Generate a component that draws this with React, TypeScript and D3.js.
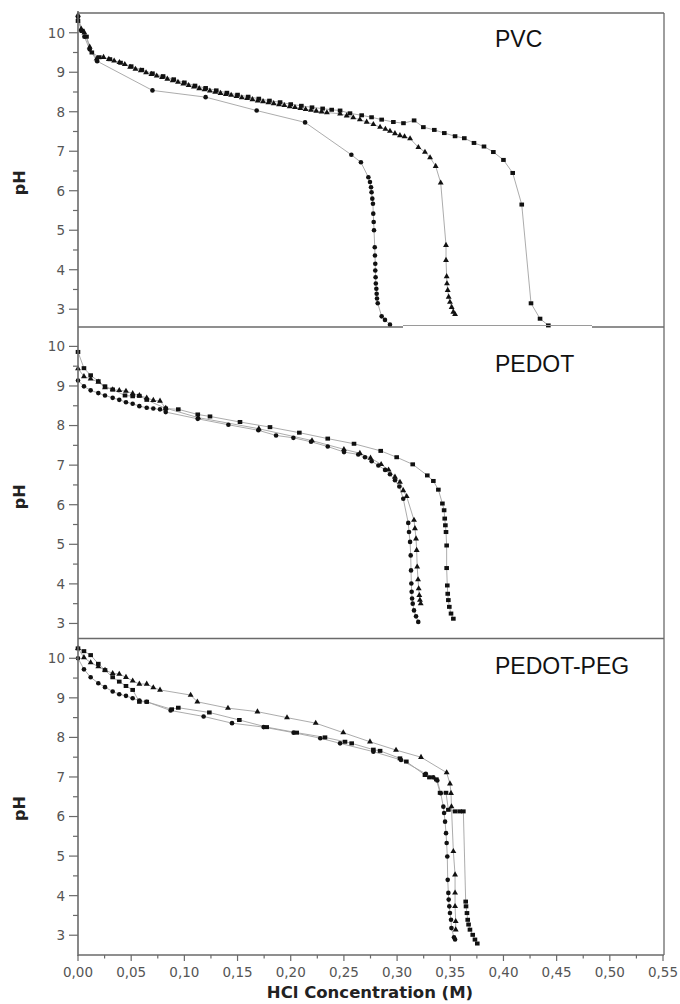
import * as d3 from "d3";

// [HCl concentration (M), pH]
const pvcSquares: [number, number][] = [
  [0.0, 10.3], [0.004, 10.05], [0.008, 9.9], [0.013, 9.5], [0.02, 9.38], [0.03, 9.33],
  [0.04, 9.24], [0.05, 9.15], [0.06, 9.06], [0.07, 8.97], [0.08, 8.9], [0.09, 8.82],
  [0.1, 8.74], [0.11, 8.66], [0.12, 8.6], [0.13, 8.54], [0.14, 8.48], [0.15, 8.43],
  [0.16, 8.38], [0.17, 8.33], [0.18, 8.28], [0.19, 8.24], [0.2, 8.19], [0.21, 8.15],
  [0.22, 8.11], [0.23, 8.08], [0.2385, 8.05], [0.2464, 8.03], [0.2557, 7.96], [0.2667, 7.91],
  [0.276, 7.86], [0.2855, 7.8], [0.2965, 7.74], [0.306, 7.71], [0.316, 7.78], [0.3247, 7.61],
  [0.335, 7.54], [0.3444, 7.46], [0.3545, 7.38], [0.3632, 7.33], [0.3723, 7.21], [0.3817, 7.12],
  [0.3905, 6.98], [0.4, 6.78], [0.4087, 6.45], [0.4172, 5.65], [0.4259, 3.15], [0.4344, 2.76],
  [0.4422, 2.59],
];
const pvcCircles: [number, number][] = [
  [0.0, 10.4], [0.003, 10.05], [0.006, 9.9], [0.011, 9.58], [0.018, 9.28], [0.07, 8.54],
  [0.12, 8.37], [0.168, 8.03], [0.2135, 7.73], [0.257, 6.91], [0.266, 6.72], [0.273, 6.34],
  [0.2745, 6.22], [0.2755, 6.09], [0.276, 5.96], [0.2767, 5.8], [0.2773, 5.67], [0.2776, 5.42],
  [0.278, 5.21], [0.2783, 5.0], [0.279, 4.57], [0.2792, 4.36], [0.2795, 4.15], [0.2795, 3.98],
  [0.2798, 3.81], [0.28, 3.65], [0.2805, 3.52], [0.2808, 3.39], [0.2811, 3.27], [0.2818, 3.15],
  [0.2855, 2.82], [0.2886, 2.73], [0.2933, 2.61],
];
const pvcTriangles: [number, number][] = [
  [0.0, 10.45], [0.003, 10.1], [0.006, 10.0], [0.011, 9.64], [0.0175, 9.34], [0.024, 9.38],
  [0.029, 9.33], [0.034, 9.29], [0.039, 9.25], [0.044, 9.2], [0.049, 9.13], [0.054, 9.08],
  [0.059, 9.04], [0.064, 8.99], [0.069, 8.95], [0.074, 8.91], [0.079, 8.87], [0.084, 8.83],
  [0.089, 8.79], [0.094, 8.75], [0.099, 8.71], [0.104, 8.67], [0.109, 8.63], [0.114, 8.59],
  [0.119, 8.56], [0.124, 8.53], [0.129, 8.5], [0.134, 8.47], [0.139, 8.44], [0.144, 8.42],
  [0.149, 8.39], [0.154, 8.36], [0.159, 8.34], [0.164, 8.31], [0.169, 8.28], [0.174, 8.26],
  [0.179, 8.23], [0.184, 8.21], [0.189, 8.18], [0.194, 8.16], [0.199, 8.13], [0.204, 8.11],
  [0.209, 8.09], [0.214, 8.06], [0.219, 8.04], [0.224, 8.02], [0.229, 8.0], [0.234, 7.98],
  [0.2464, 7.95], [0.2526, 7.9], [0.2588, 7.85], [0.265, 7.8], [0.2714, 7.74], [0.2777, 7.68],
  [0.284, 7.61], [0.289, 7.56], [0.2933, 7.51], [0.298, 7.45], [0.3027, 7.4], [0.307, 7.37],
  [0.3122, 7.32], [0.32, 7.1], [0.3262, 6.98], [0.331, 6.84], [0.3363, 6.62], [0.341, 6.2],
  [0.346, 4.62], [0.346, 4.24], [0.3466, 3.83], [0.3469, 3.65], [0.3476, 3.48], [0.3485, 3.31],
  [0.3497, 3.18], [0.3513, 3.05], [0.3529, 2.93], [0.3545, 2.87],
];

const pedotSquares: [number, number][] = [
  [0.0, 9.86], [0.0056, 9.45], [0.0119, 9.27], [0.0191, 9.12], [0.0254, 8.99], [0.0326, 8.91],
  [0.0442, 8.76], [0.0514, 8.74], [0.0577, 8.75], [0.0646, 8.65], [0.0825, 8.43], [0.0943, 8.41],
  [0.1126, 8.28], [0.1241, 8.23], [0.1523, 8.09], [0.1805, 7.96], [0.2081, 7.82], [0.2348, 7.67],
  [0.2595, 7.54], [0.2846, 7.36], [0.2996, 7.2], [0.3147, 7.02], [0.3284, 6.74], [0.3341, 6.6],
  [0.3388, 6.38], [0.3426, 6.03], [0.3442, 5.86], [0.3448, 5.65], [0.3454, 5.48], [0.346, 5.31],
  [0.3466, 4.97], [0.3466, 4.4], [0.3472, 3.96], [0.3476, 3.75], [0.3482, 3.59], [0.3491, 3.42],
  [0.3507, 3.25], [0.3529, 3.12],
];
const pedotCircles: [number, number][] = [
  [0.0, 9.14], [0.0056, 8.99], [0.0119, 8.89], [0.0191, 8.82], [0.0254, 8.76], [0.0326, 8.7],
  [0.0388, 8.65], [0.0451, 8.59], [0.0514, 8.55], [0.0577, 8.49], [0.0646, 8.45], [0.0708, 8.43],
  [0.0771, 8.41], [0.0825, 8.34], [0.1126, 8.17], [0.1414, 8.02], [0.1696, 7.88], [0.1862, 7.75],
  [0.2025, 7.69], [0.2191, 7.59], [0.2348, 7.47], [0.2501, 7.33], [0.2635, 7.27], [0.2698, 7.2],
  [0.2761, 7.1], [0.2824, 6.99], [0.2887, 6.88], [0.2933, 6.77], [0.298, 6.62], [0.3021, 6.46],
  [0.3058, 6.15], [0.3105, 5.54], [0.3112, 5.31], [0.3122, 5.06], [0.3128, 4.72], [0.3131, 4.34],
  [0.3134, 4.01], [0.3137, 3.8], [0.3141, 3.63], [0.3147, 3.5], [0.3159, 3.33], [0.3178, 3.18],
  [0.3199, 3.04],
];
const pedotTriangles: [number, number][] = [
  [0.0, 9.44], [0.0056, 9.24], [0.0119, 9.18], [0.0191, 9.1], [0.0254, 8.96], [0.0326, 8.91],
  [0.0388, 8.89], [0.0451, 8.87], [0.0514, 8.81], [0.0577, 8.76], [0.0646, 8.7], [0.0708, 8.64],
  [0.0771, 8.62], [0.0825, 8.44], [0.113, 8.2], [0.17, 7.92], [0.22, 7.62], [0.25, 7.4],
  [0.265, 7.3], [0.275, 7.18], [0.285, 7.02], [0.292, 6.88], [0.298, 6.7], [0.3027, 6.57],
  [0.3058, 6.36], [0.309, 6.21], [0.3159, 5.61], [0.3168, 5.4], [0.3178, 5.14], [0.3184, 4.85],
  [0.3189, 4.43], [0.3197, 4.11], [0.3203, 3.88], [0.3209, 3.71], [0.3215, 3.59], [0.3222, 3.5],
];

const pegSquares: [number, number][] = [
  [0.0, 10.25], [0.0056, 10.18], [0.0119, 10.08], [0.0191, 9.86], [0.0254, 9.7], [0.0326, 9.52],
  [0.0388, 9.41], [0.0451, 9.3], [0.0514, 9.2], [0.0577, 8.9], [0.0646, 8.9], [0.0881, 8.71],
  [0.0943, 8.75], [0.1235, 8.63], [0.1517, 8.44], [0.1774, 8.26], [0.2056, 8.12], [0.2322, 8.0],
  [0.251, 7.89], [0.2573, 7.85], [0.2777, 7.69], [0.284, 7.66], [0.3027, 7.47], [0.3087, 7.39],
  [0.3262, 7.05], [0.3304, 6.99], [0.3369, 6.94], [0.3404, 6.6], [0.346, 6.6], [0.3482, 6.17],
  [0.3545, 6.13], [0.3589, 6.13], [0.3623, 6.13], [0.3645, 3.85], [0.3648, 3.73], [0.3657, 3.56],
  [0.3664, 3.39], [0.3672, 3.27], [0.3685, 3.14], [0.3711, 3.01], [0.3732, 2.89], [0.3754, 2.79],
];
const pegCircles: [number, number][] = [
  [0.0, 10.0], [0.0056, 9.72], [0.0119, 9.52], [0.0191, 9.37], [0.0254, 9.27], [0.0326, 9.16],
  [0.0388, 9.09], [0.0451, 9.05], [0.0514, 8.99], [0.0577, 8.93], [0.0646, 8.9], [0.0871, 8.68],
  [0.1181, 8.53], [0.1448, 8.36], [0.1745, 8.26], [0.2027, 8.12], [0.2278, 7.98], [0.2464, 7.85],
  [0.2777, 7.64], [0.3037, 7.43], [0.327, 7.08], [0.334, 6.99], [0.3378, 6.91], [0.341, 6.59],
  [0.3435, 6.25], [0.3442, 6.09], [0.3451, 5.87], [0.346, 5.58], [0.3466, 5.33], [0.3472, 4.99],
  [0.3476, 4.4], [0.3482, 4.07], [0.3485, 3.9], [0.3491, 3.73], [0.3497, 3.56], [0.3507, 3.39],
  [0.3511, 3.18], [0.3535, 2.95], [0.3545, 2.89],
];
const pegTriangles: [number, number][] = [
  [0.0, 10.25], [0.0056, 10.02], [0.0119, 9.89], [0.0191, 9.79], [0.0254, 9.7], [0.0326, 9.62],
  [0.0388, 9.6], [0.0451, 9.52], [0.0514, 9.43], [0.0577, 9.35], [0.0646, 9.35], [0.0708, 9.26],
  [0.0771, 9.2], [0.1059, 9.07], [0.1122, 8.9], [0.141, 8.74], [0.1687, 8.65], [0.1965, 8.5],
  [0.2235, 8.36], [0.2494, 8.12], [0.2745, 7.89], [0.299, 7.68], [0.3225, 7.5], [0.3466, 7.11],
  [0.3497, 6.83], [0.3507, 6.59], [0.3511, 6.25], [0.3529, 5.12], [0.3545, 4.53], [0.3545, 4.07],
  [0.3545, 3.73], [0.3551, 3.35], [0.3551, 3.14],
];

const panelNames = ["PVC", "PEDOT", "PEDOT-PEG"];
const xTicks = [0, 0.05, 0.1, 0.15, 0.2, 0.25, 0.3, 0.35, 0.4, 0.45, 0.5, 0.55];
const yTicks = [3, 4, 5, 6, 7, 8, 9, 10];

const panelData = [
  { squares: pvcSquares, circles: pvcCircles, triangles: pvcTriangles },
  { squares: pedotSquares, circles: pedotCircles, triangles: pedotTriangles },
  { squares: pegSquares, circles: pegCircles, triangles: pegTriangles },
];

// layout
const W = 680;
const H = 1004;
const left = 78;
const right = 664;
const panels = [
  { top: 13, bottom: 327, lo: 2.55, hi: 10.5, titleY: 47 },
  { top: 327, bottom: 638.5, lo: 2.62, hi: 10.49, titleY: 372 },
  { top: 638.5, bottom: 955, lo: 2.5, hi: 10.5, titleY: 674 },
];

const frame = "#6a6a6a";
const tickText = "#555";
const font = "'DejaVu Sans', sans-serif";

export default function App() {
  const x = d3.scaleLinear().domain([0, 0.55]).range([left, right - 1]);
  const fmt = (v: number) => d3.format(".2f")(v).replace(".", ",");
  const tri = d3.symbol(d3.symbolTriangle, 15)();
  const minorX = d3.range(0.025, 0.55, 0.05);

  return (
    <svg
      width={W}
      height={H}
      style={{ position: "absolute", left: 0, top: 0, background: "#fff" }}
    >
      {panels.map((p, i) => {
        const y = d3.scaleLinear().domain([p.lo, p.hi]).range([p.bottom, p.top]);
        const line = d3
          .line<[number, number]>()
          .x((d) => x(d[0]))
          .y((d) => y(d[1]));
        const data = panelData[i];
        const minorY = yTicks.slice(0, -1).map((t) => t + 0.5);
        return (
          <g key={i}>
            {[data.squares, data.circles, data.triangles].map((s, j) => (
              <path key={j} d={line(s) || ""} fill="none" stroke="#a3a3a3" strokeWidth={0.9} />
            ))}
            {data.squares.map((d, j) => (
              <rect key={"s" + j} x={x(d[0]) - 2.3} y={y(d[1]) - 2} width={4.6} height={4} fill="#111" />
            ))}
            {data.circles.map((d, j) => (
              <circle key={"c" + j} cx={x(d[0])} cy={y(d[1])} r={2.3} fill="#111" />
            ))}
            {data.triangles.map((d, j) => (
              <path key={"t" + j} d={tri || ""} transform={`translate(${x(d[0])},${y(d[1])})`} fill="#111" />
            ))}
            {yTicks.map((t) => (
              <g key={"y" + t}>
                <line x1={left - 9} x2={left} y1={y(t)} y2={y(t)} stroke={frame} strokeWidth={1.2} />
                <text x={left - 13} y={y(t)} dy="0.36em" textAnchor="end" fontFamily={font} fontSize={13.5} fill={tickText}>
                  {t}
                </text>
              </g>
            ))}
            {minorY.map((t) => (
              <line key={"m" + t} x1={left - 5} x2={left} y1={y(t)} y2={y(t)} stroke={frame} strokeWidth={1.2} />
            ))}
            <text
              transform={`translate(25,${y(6.2)}) rotate(-90)`}
              textAnchor="middle"
              fontFamily={font}
              fontWeight="bold"
              fontSize={16}
              fill="#222"
            >
              pH
            </text>
            <text
              x={495}
              y={p.titleY}
              fontFamily="'Liberation Sans', Arial, sans-serif"
              fontSize={23}
              fill="#111"
            >
              {panelNames[i]}
            </text>
          </g>
        );
      })}

      {/* frame */}
      <line x1={left} x2={right} y1={13} y2={13} stroke={frame} strokeWidth={1.3} />
      <line x1={right} x2={right} y1={13} y2={955} stroke={frame} strokeWidth={1.3} />
      <line x1={left} x2={403} y1={327} y2={327} stroke={frame} strokeWidth={1.5} />
      <line x1={403} x2={592} y1={325.5} y2={325.5} stroke="#9a9a9a" strokeWidth={1.2} />
      <line x1={592} x2={right} y1={327} y2={327} stroke={frame} strokeWidth={1.5} />
      <line x1={left} x2={right} y1={638.5} y2={638.5} stroke={frame} strokeWidth={1.5} />
      <line x1={left} x2={left} y1={11} y2={956} stroke={frame} strokeWidth={1.6} />
      <line x1={left} x2={right} y1={955} y2={955} stroke={frame} strokeWidth={1.6} />

      {/* x axis */}
      {xTicks.map((t) => (
        <g key={"x" + t}>
          <line x1={x(t)} x2={x(t)} y1={955} y2={961} stroke={frame} strokeWidth={1.2} />
          <text x={x(t)} y={977} textAnchor="middle" fontFamily={font} fontSize={13.5} fill={tickText}>
            {fmt(t)}
          </text>
        </g>
      ))}
      {minorX.map((t) => (
        <line key={"mx" + t} x1={x(t)} x2={x(t)} y1={955} y2={958.5} stroke={frame} strokeWidth={1.2} />
      ))}
      <text x={370} y={998} textAnchor="middle" fontFamily={font} fontWeight="bold" fontSize={16.5} fill="#222">
        HCl Concentration (M)
      </text>
    </svg>
  );
}
